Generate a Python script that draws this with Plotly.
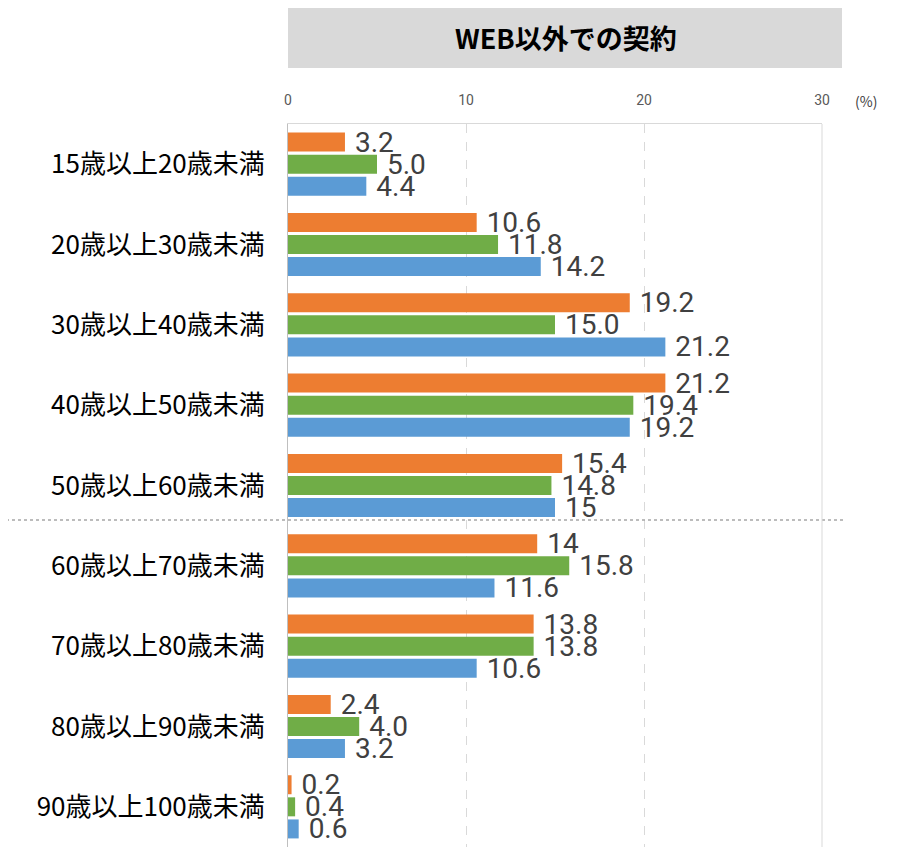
import plotly.graph_objects as go

categories = ["15歳以上20歳未満", "20歳以上30歳未満", "30歳以上40歳未満", "40歳以上50歳未満",
              "50歳以上60歳未満", "60歳以上70歳未満", "70歳以上80歳未満", "80歳以上90歳未満",
              "90歳以上100歳未満"]
orange_vals = [3.2, 10.6, 19.2, 21.2, 15.4, 14, 13.8, 2.4, 0.2]
green_vals = [5.0, 11.8, 15.0, 19.4, 14.8, 15.8, 13.8, 4.0, 0.4]
blue_vals = [4.4, 14.2, 21.2, 19.2, 15, 11.6, 10.6, 3.2, 0.6]
orange_text = ["3.2", "10.6", "19.2", "21.2", "15.4", "14", "13.8", "2.4", "0.2"]
green_text = ["5.0", "11.8", "15.0", "19.4", "14.8", "15.8", "13.8", "4.0", "0.4"]
blue_text = ["4.4", "14.2", "21.2", "19.2", "15", "11.6", "10.6", "3.2", "0.6"]
x_ticks = [0, 10, 20, 30]
title_text = "WEB以外での契約"

# page has an 8px body margin; work in page pixel coordinates
OFF = 8
W, H = 901 - OFF, 847 - OFF
PL, PR, PT, PB = 288, 822, 124, 847  # plot area in page pixels
L, T = PL - OFF, PT - OFF
R = W - (PR - OFF)
B = H - (PB - OFF)
pw, ph = PR - PL, PB - PT

def px_x(px):
    return (px - PL) / pw

def px_y(py):
    return (PB - py) / ph

label_font = dict(family="Roboto, sans-serif", size=28, color="#404040")

fig = go.Figure()
for name, vals, txt, col in [("系列1", orange_vals, orange_text, "#ED7D31"),
                             ("系列2", green_vals, green_text, "#70AD47"),
                             ("系列3", blue_vals, blue_text, "#5B9BD5")]:
    fig.add_trace(go.Bar(
        y=categories, x=vals, orientation="h", name=name,
        marker=dict(color=col, line=dict(width=0)),
        text=[" " + t for t in txt], textposition="outside", textfont=label_font,
        constraintext="none", cliponaxis=False, showlegend=False,
    ))

fig.update_layout(
    width=W, height=H,
    margin=dict(l=L, r=R, t=T, b=B, pad=0),
    plot_bgcolor="white", paper_bgcolor="white",
    barmode="group", bargap=0.175, bargroupgap=0.14,
    font=dict(family="Noto Sans CJK JP, sans-serif"),
    xaxis=dict(
        side="top", range=[0, 30], tickvals=x_ticks, ticktext=[str(v) for v in x_ticks],
        showgrid=True, gridcolor="#D9D9D9", griddash="dash", gridwidth=1,
        showline=True, linecolor="#D9D9D9", linewidth=1,
        ticks="outside", ticklen=12, tickcolor="rgba(0,0,0,0)",
        tickfont=dict(family="Liberation Sans Narrow, Roboto, sans-serif", size=14, color="#595959"),
        zeroline=False, fixedrange=True,
    ),
    yaxis=dict(
        autorange="reversed", showline=True, linecolor="#BFBFBF", linewidth=1,
        ticks="outside", ticklen=17, tickcolor="rgba(0,0,0,0)",
        tickfont=dict(family="Noto Sans CJK JP, sans-serif", size=26, color="#000000"),
        showgrid=False,
    ),
    shapes=[
        dict(type="rect", xref="paper", yref="paper",
             x0=px_x(288), x1=px_x(842), y0=px_y(68), y1=px_y(7),
             fillcolor="#D9D9D9", line=dict(width=0), layer="below"),
        dict(type="line", xref="paper", yref="paper",
             x0=px_x(0), x1=px_x(844), y0=px_y(520), y1=px_y(520),
             line=dict(color="#A6A6A6", width=1.5, dash="dot")),
        dict(type="line", xref="paper", yref="paper",
             x0=1, x1=1, y0=0, y1=1,
             line=dict(color="#D9D9D9", width=1)),
    ],
    annotations=[
        dict(text="<b>" + title_text + "</b>", xref="paper", yref="paper",
             x=px_x(566), y=px_y(38), showarrow=False,
             font=dict(family="Noto Sans CJK JP, sans-serif", size=27, color="#000000"),
             xanchor="center", yanchor="middle"),
        dict(text="(%)", xref="paper", yref="paper",
             x=px_x(866), y=px_y(101), showarrow=False,
             font=dict(family="Noto Sans CJK JP, sans-serif", size=14, color="#404040"),
             xanchor="center", yanchor="middle"),
    ],
)

fig.write_html("out.html")
